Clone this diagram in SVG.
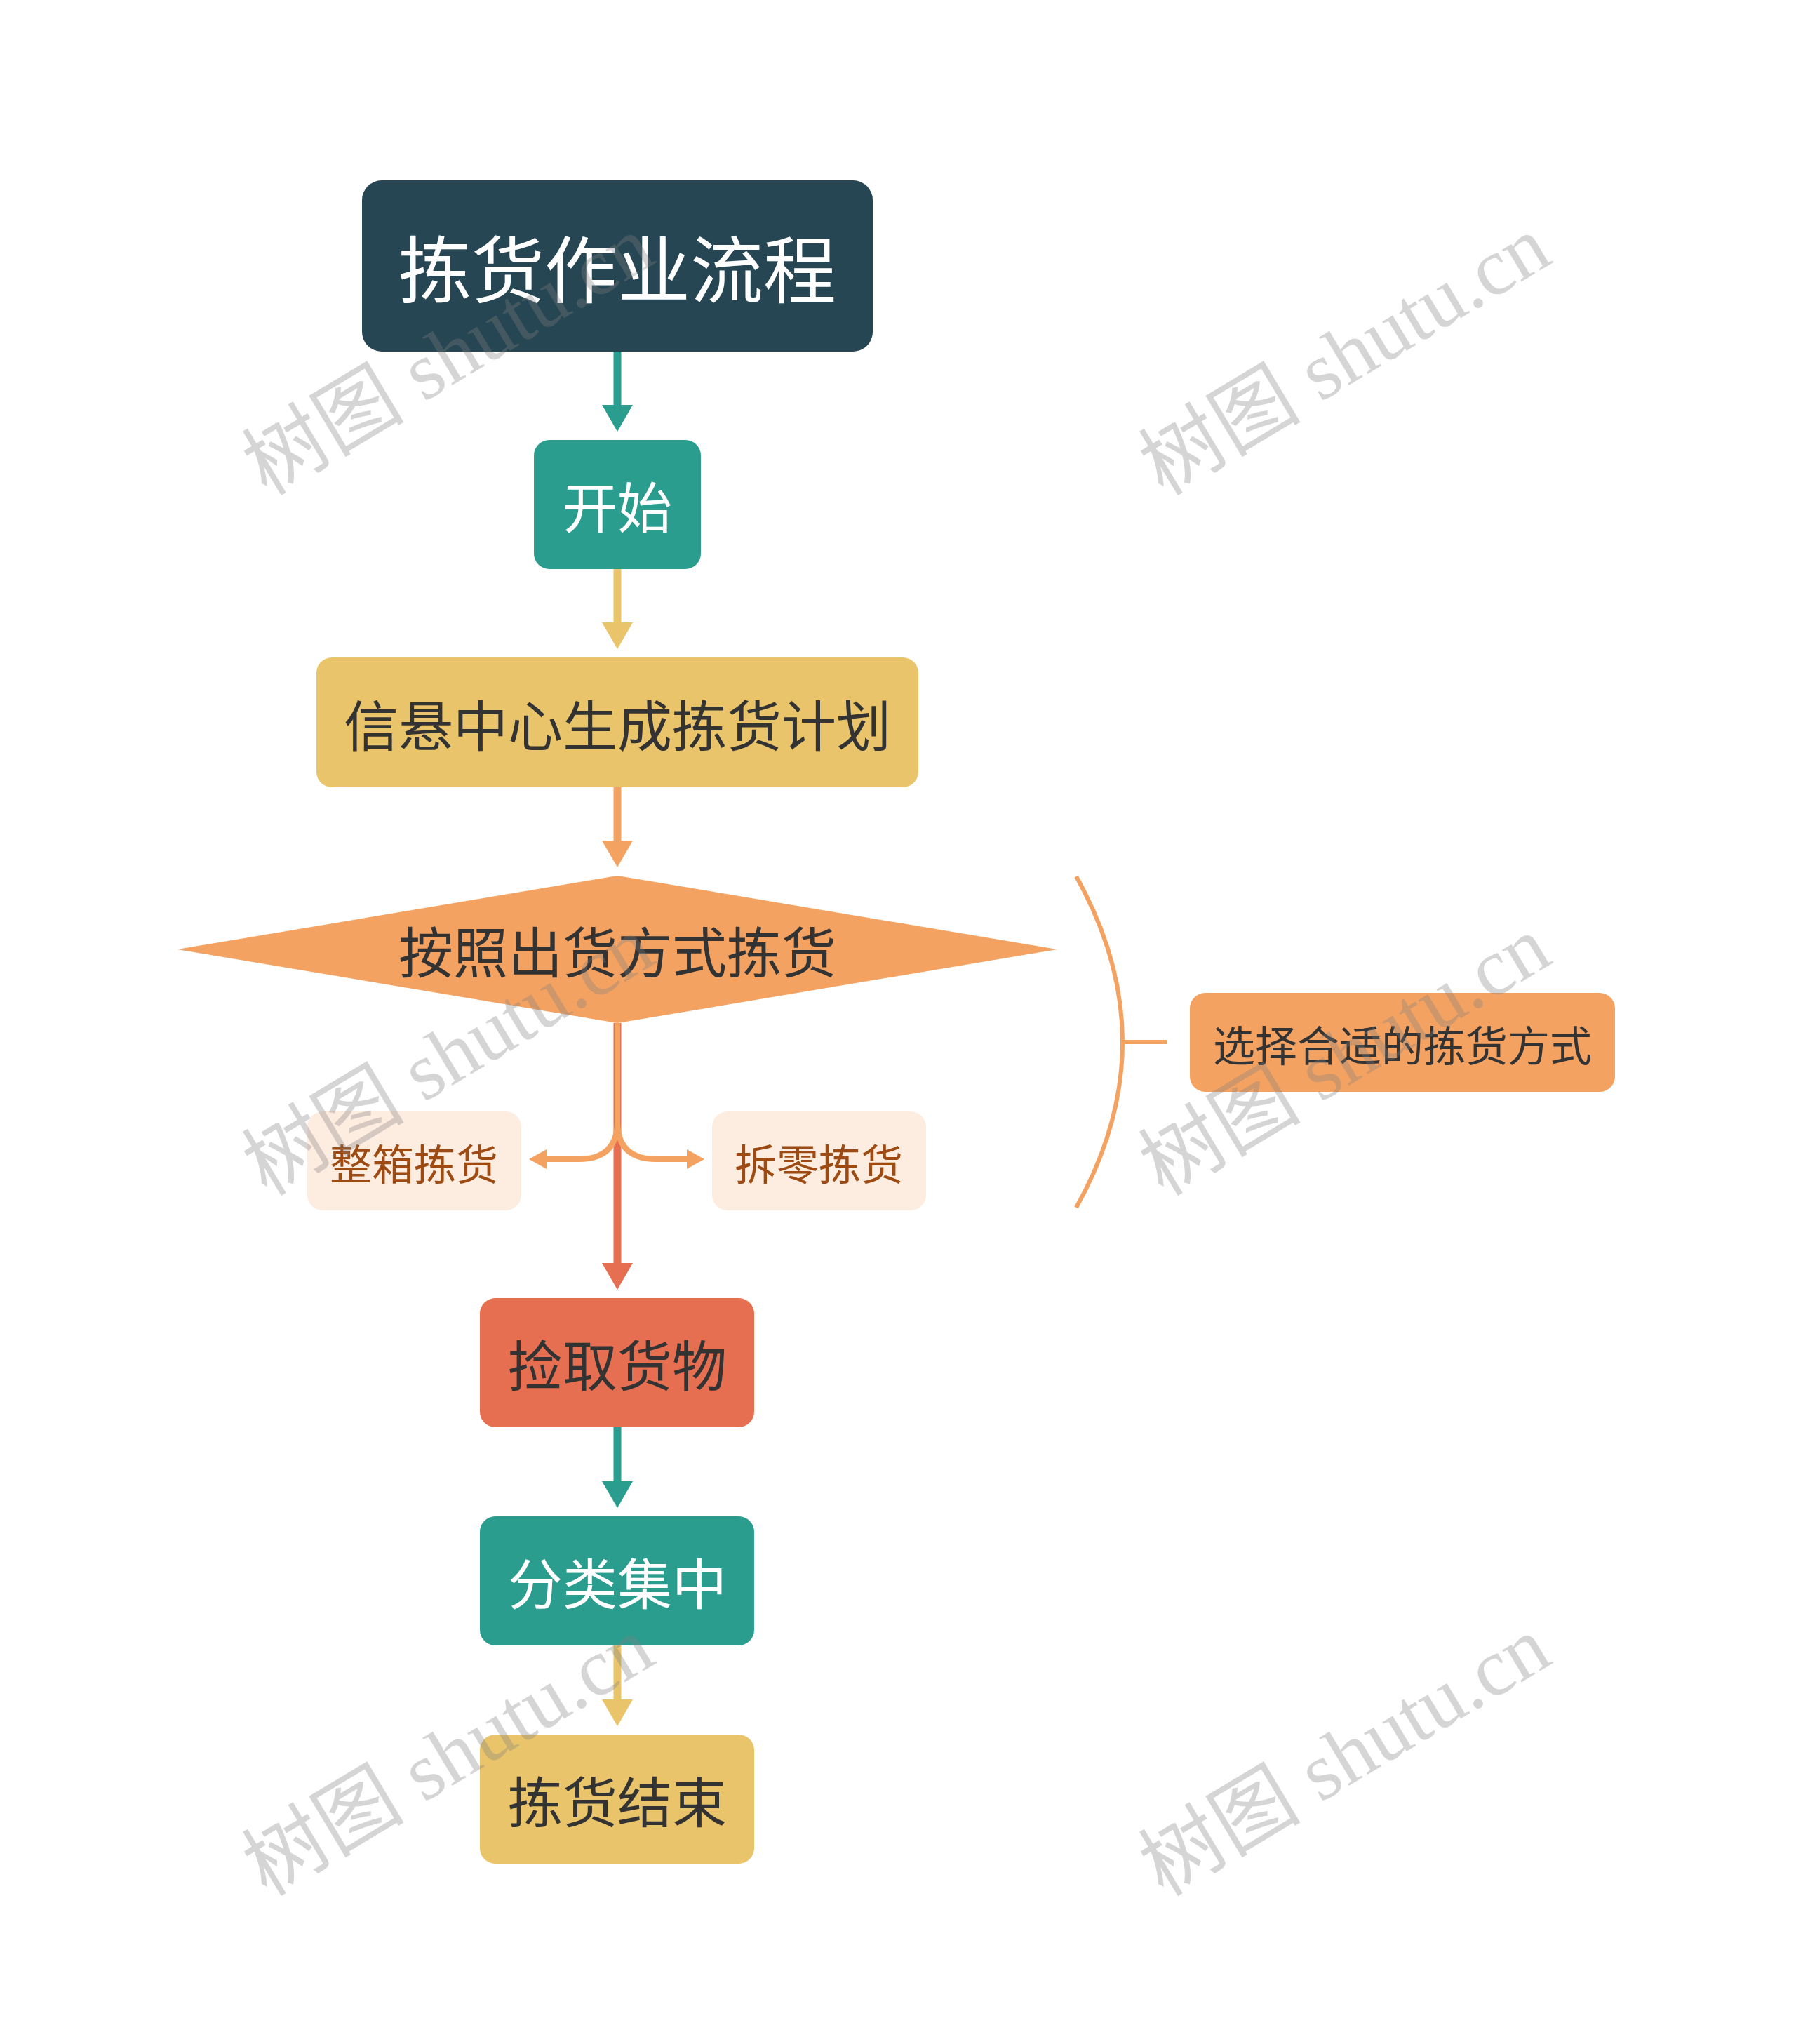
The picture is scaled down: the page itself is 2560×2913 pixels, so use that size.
<svg xmlns="http://www.w3.org/2000/svg" width="2560" height="2913" viewBox="0 0 2560 2913">
<defs>
<style>
.t{font-family:"Noto Sans CJK SC","Noto Sans",sans-serif;text-anchor:middle;dominant-baseline:central}
.big{font-size:78px}
.sm{font-size:60px}
.dark{fill:#333333}
.white{fill:#ffffff}
.wm{font-family:"Liberation Serif","Noto Sans CJK SC",serif;font-size:116px;fill:#808080;opacity:0.32}
</style>
</defs>
<rect width="2560" height="2913" fill="#ffffff"/>
<g id="connectors">
  <line x1="880" y1="501" x2="880" y2="580" stroke="#2a9d8f" stroke-width="11"/>
  <polygon points="858,577 902,577 880,615" fill="#2a9d8f"/>
  <line x1="880" y1="811" x2="880" y2="890" stroke="#e9c46a" stroke-width="11"/>
  <polygon points="858,887 902,887 880,925" fill="#e9c46a"/>
  <line x1="880" y1="1122" x2="880" y2="1201" stroke="#f4a261" stroke-width="11"/>
  <polygon points="858,1198 902,1198 880,1236" fill="#f4a261"/>
  <line x1="880" y1="1458" x2="880" y2="1803" stroke="#e76f51" stroke-width="11"/>
  <polygon points="858,1800 902,1800 880,1838" fill="#e76f51"/>
  <path d="M880 1458 L880 1598 Q880 1652 825 1652 L776 1652" fill="none" stroke="#f4a261" stroke-width="8"/>
  <polygon points="779,1638 779,1666 754,1652" fill="#f4a261"/>
  <path d="M880 1458 L880 1598 Q880 1652 935 1652 L982 1652" fill="none" stroke="#f4a261" stroke-width="8"/>
  <polygon points="979,1638 979,1666 1004,1652" fill="#f4a261"/>
  <line x1="880" y1="2034" x2="880" y2="2114" stroke="#2a9d8f" stroke-width="11"/>
  <polygon points="858,2111 902,2111 880,2149" fill="#2a9d8f"/>
  <line x1="880" y1="2345" x2="880" y2="2425" stroke="#e9c46a" stroke-width="11"/>
  <polygon points="858,2422 902,2422 880,2460" fill="#e9c46a"/>
  <path d="M1534 1249 Q1666 1485 1534 1721" fill="none" stroke="#f4a261" stroke-width="6"/>
  <line x1="1599" y1="1485" x2="1663" y2="1485" stroke="#f4a261" stroke-width="6"/>
</g>
<g id="node-title">
  <rect x="516" y="257" width="728" height="244" rx="28" fill="#264653"/>
  <text class="t white" x="880" y="378" font-size="104">拣货作业流程</text>
</g>
<g id="node-start">
  <rect x="761" y="627" width="238" height="184" rx="22" fill="#2a9d8f"/>
  <text class="t big white" x="880" y="719">开始</text>
</g>
<g id="node-plan">
  <rect x="451" y="937" width="858" height="185" rx="22" fill="#e9c46a"/>
  <text class="t big dark" x="880" y="1030">信悬中心生成拣货计划</text>
</g>
<g id="node-decision">
  <polygon points="880,1248 1507,1353 880,1458 253,1353" fill="#f4a261"/>
  <text class="t big dark" x="880" y="1353">按照出货方式拣货</text>
</g>
<g id="node-whole">
  <rect x="438" y="1584" width="305" height="141" rx="22" fill="#fdece0"/>
  <text class="t sm" x="590" y="1655" fill="#9d4b12">整箱拣货</text>
</g>
<g id="node-split">
  <rect x="1015" y="1584" width="305" height="141" rx="22" fill="#fdece0"/>
  <text class="t sm" x="1167" y="1655" fill="#9d4b12">拆零拣货</text>
</g>
<g id="node-summary">
  <rect x="1696" y="1415" width="606" height="141" rx="22" fill="#f4a261"/>
  <text class="t sm dark" x="1999" y="1486">选择合适的拣货方式</text>
</g>
<g id="node-pick">
  <rect x="684" y="1850" width="391" height="184" rx="22" fill="#e76f51"/>
  <text class="t big dark" x="880" y="1942">捡取货物</text>
</g>
<g id="node-sort">
  <rect x="684" y="2161" width="391" height="184" rx="22" fill="#2a9d8f"/>
  <text class="t big white" x="880" y="2253">分类集中</text>
</g>
<g id="node-end">
  <rect x="684" y="2472" width="391" height="184" rx="22" fill="#e9c46a"/>
  <text class="t big dark" x="880" y="2564">拣货结束</text>
</g>
<g id="watermarks">
  <text class="wm" transform="translate(380,708) rotate(-31)">树图 shutu.cn</text>
  <text class="wm" transform="translate(1658,708) rotate(-31)">树图 shutu.cn</text>
  <text class="wm" transform="translate(380,1706) rotate(-31)">树图 shutu.cn</text>
  <text class="wm" transform="translate(1658,1706) rotate(-31)">树图 shutu.cn</text>
  <text class="wm" transform="translate(380,2704) rotate(-31)">树图 shutu.cn</text>
  <text class="wm" transform="translate(1658,2704) rotate(-31)">树图 shutu.cn</text>
</g>
</svg>
